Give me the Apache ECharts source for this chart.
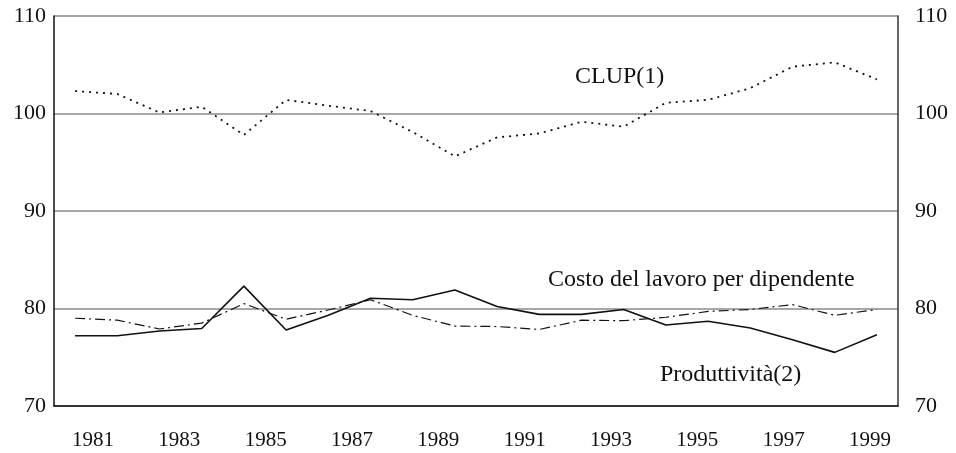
<!DOCTYPE html>
<html>
<head>
<meta charset="utf-8">
<script src="https://cdn.jsdelivr.net/npm/echarts@6/dist/echarts.min.js"></script>
<style>
  html, body { margin: 0; padding: 0; background: #fff; }
  #chart1 { width: 956px; height: 453px; }
</style>
</head>
<body>
<div id="chart1"></div>
<script>
// anni (un punto per anno)
const Data_Anni = ['1980', '1981', '1982', '1983', '1984', '1985', '1986', '1987', '1988', '1989',
  '1990', '1991', '1992', '1993', '1994', '1995', '1996', '1997', '1998', '1999'];
// etichette dell'asse orizzontale
const Data_Etichette = [1981, 1983, 1985, 1987, 1989, 1991, 1993, 1995, 1997, 1999];
// CLUP(1)
const Data_Clup = [102.3, 102.0, 100.1, 100.7, 97.8, 101.4, 100.8, 100.25, 98.1, 95.6,
  97.55, 97.95, 99.15, 98.65, 101.1, 101.4, 102.6, 104.8, 105.25, 103.5];
// Costo del lavoro per dipendente
const Data_Costo = [79.0, 78.8, 77.9, 78.5, 80.5, 78.9, 79.85, 80.9, 79.3, 78.2,
  78.15, 77.85, 78.8, 78.75, 79.1, 79.7, 79.9, 80.4, 79.3, 79.9];
// Produttività(2)
const Data_Produttivita = [77.2, 77.2, 77.7, 77.95, 82.3, 77.8, 79.3, 81.05, 80.9, 81.9,
  80.2, 79.4, 79.4, 79.9, 78.3, 78.7, 78.0, 76.8, 75.5, 77.3];

const FONT = "'Liberation Serif', 'DejaVu Serif', serif";

function renderChart1() {
  const dom = document.getElementById("chart1");
  const chart = echarts.init(dom);
  const yLabel = { fontFamily: FONT, fontSize: 22, color: '#111' };
  const testo = { fontFamily: FONT, fontSize: 24, fill: '#111', align: 'left', verticalAlign: 'middle' };
  const option = {
    animation: false,
    grid: {
      left: 54,
      right: 58,
      top: 16,
      bottom: 47,
    },
    xAxis: [
      {
        type: 'category',
        data: Data_Anni,
        boundaryGap: true,
        axisLine: { lineStyle: { color: '#111', width: 1.5 } },
        axisTick: { inside: true, length: 8, lineStyle: { color: '#111', width: 1.2 } },
        axisLabel: { show: false },
        splitLine: { show: false },
      },
      {
        // solo per le etichette degli anni
        type: 'value',
        position: 'bottom',
        min: 1980.0965,
        max: 1999.6486,
        axisLine: { show: false },
        axisTick: { show: false },
        splitLine: { show: false },
        axisLabel: {
          customValues: Data_Etichette,
          formatter: (v) => String(v),
          margin: 24,
          fontFamily: FONT,
          fontSize: 21,
          color: '#111',
        },
      }
    ],
    yAxis: [
      {
        type: 'value',
        min: 70,
        max: 110,
        interval: 10,
        position: 'left',
        axisLine: { show: true, lineStyle: { color: '#111', width: 1.5 } },
        axisTick: { show: false },
        axisLabel: Object.assign({ margin: 8 }, yLabel),
        splitLine: { show: true, lineStyle: { color: '#8a8a8a', width: 1.5 } },
      },
      {
        type: 'value',
        min: 70,
        max: 110,
        interval: 10,
        position: 'right',
        axisLine: { show: true, lineStyle: { color: '#333', width: 1.5 } },
        axisTick: { show: false },
        axisLabel: Object.assign({ margin: 17 }, yLabel),
        splitLine: { show: false },
      }
    ],
    series: [
      {
        name: 'CLUP(1)',
        type: 'line',
        xAxisIndex: 0,
        yAxisIndex: 0,
        data: Data_Clup,
        symbol: 'none',
        lineStyle: { color: '#111', width: 1.8, type: [2, 5] },
      },
      {
        name: 'Costo del lavoro per dipendente',
        type: 'line',
        xAxisIndex: 0,
        yAxisIndex: 0,
        data: Data_Costo,
        symbol: 'none',
        lineStyle: { color: '#111', width: 1.2, type: [10, 4, 2, 4] },
      },
      {
        name: 'Produttività(2)',
        type: 'line',
        xAxisIndex: 0,
        yAxisIndex: 0,
        data: Data_Produttivita,
        symbol: 'none',
        lineStyle: { color: '#111', width: 1.6 },
      },
    ],
    graphic: [
      {
        type: 'text',
        x: 575,
        y: 77,
        style: Object.assign({ text: 'CLUP(1)' }, testo),
      },
      {
        type: 'text',
        x: 548,
        y: 280,
        style: Object.assign({ text: 'Costo del lavoro per dipendente' }, testo),
      },
      {
        type: 'text',
        x: 660,
        y: 375,
        style: Object.assign({ text: 'Produttività(2)' }, testo),
      },
    ],
  };
  chart.setOption(option, true);
}

renderChart1();
</script>
</body>
</html>
